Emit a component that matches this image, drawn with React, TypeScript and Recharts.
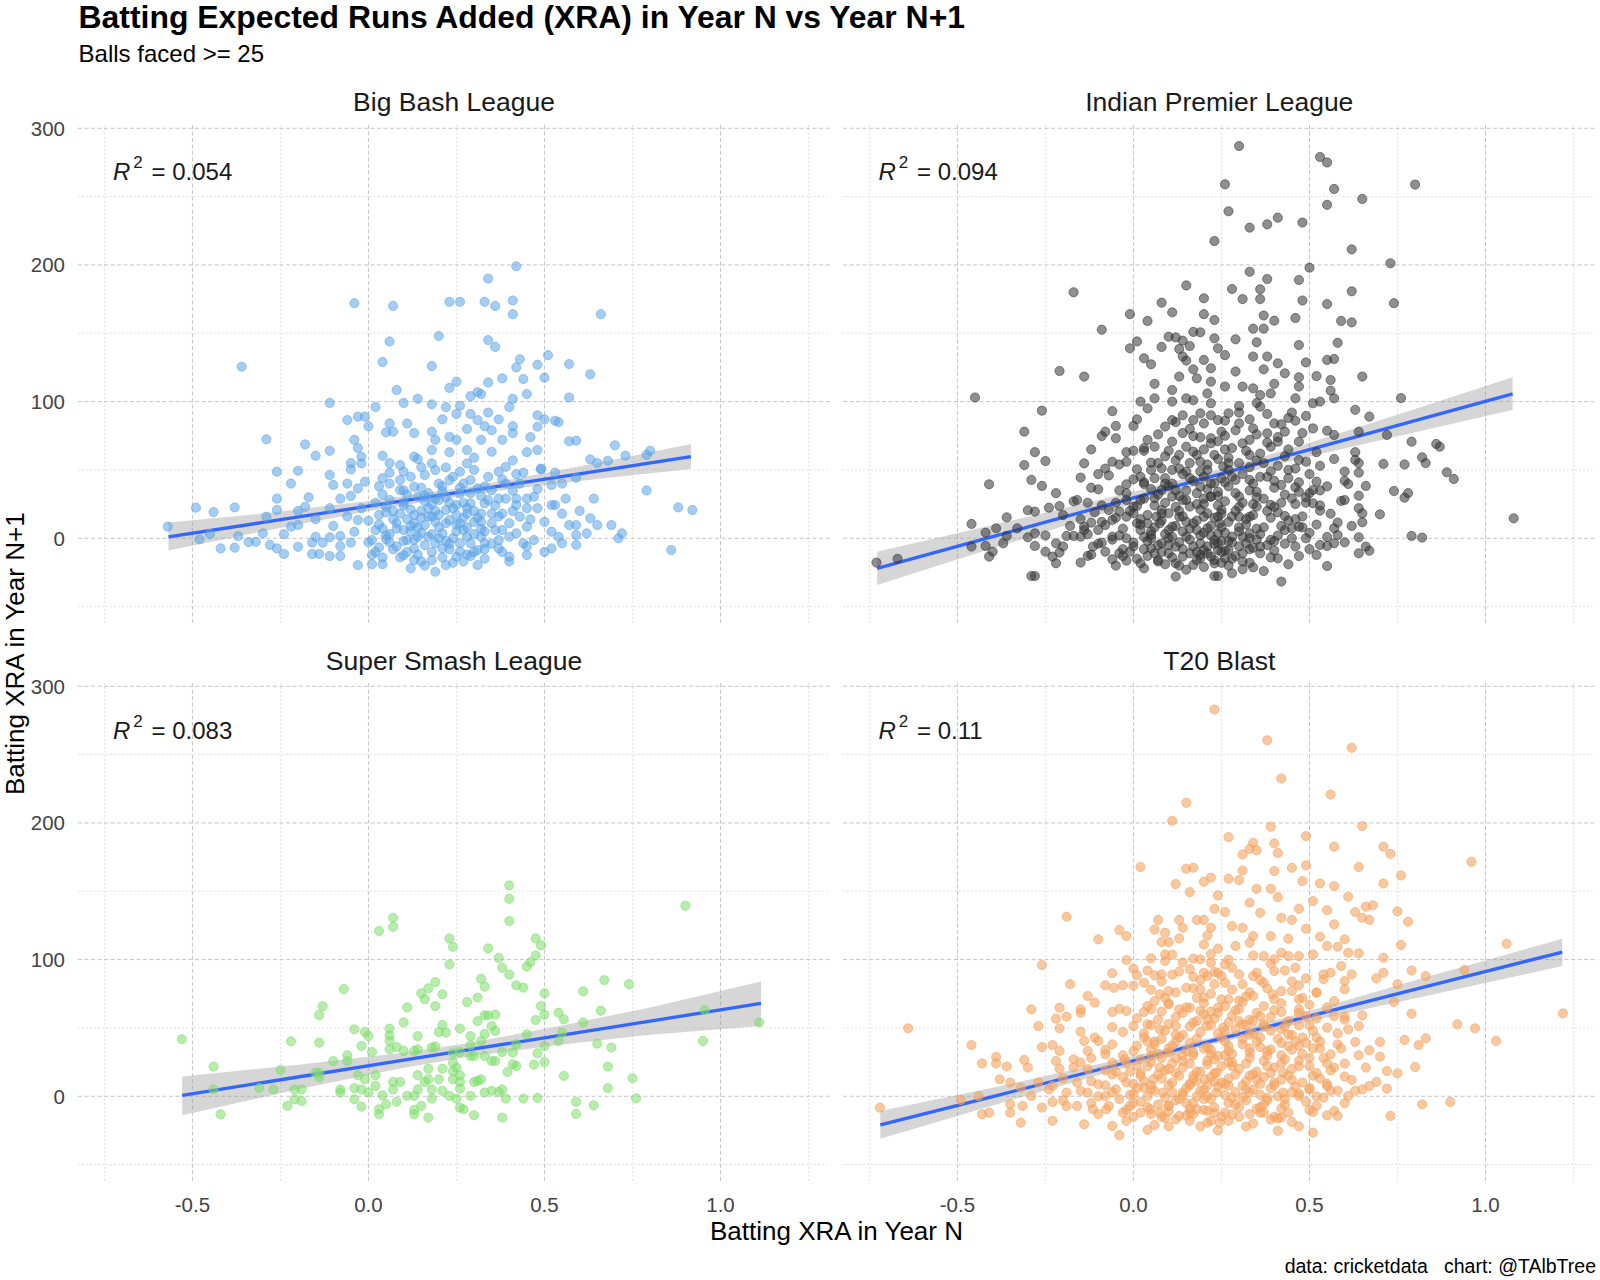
import React from 'react';
import { ComposedChart, Scatter, Line, Area, XAxis, YAxis, CartesianGrid } from 'recharts';

const FONT = '"Liberation Sans", Arial, Helvetica, sans-serif';

// ---- axes ----
const X_DOMAIN: [number, number] = [-0.825, 1.311];
const Y_DOMAIN: [number, number] = [-62.8, 302.4];
const X_TICKS = [-0.5, 0, 0.5, 1.0];
const Y_TICKS = [0, 100, 200, 300];
const X_MINOR = [-0.75, -0.25, 0.25, 0.75, 1.25];
const Y_MINOR = [-50, 50, 150, 250];

// ---- texts ----
const TITLE = 'Batting Expected Runs Added (XRA) in Year N vs Year N+1';
const SUBTITLE = 'Balls faced >= 25';
const X_TITLE = 'Batting XRA in Year N';
const Y_TITLE = 'Batting XRA in Year N+1';
const CAPTION = 'data: cricketdata   chart: @TAlbTree';
const LEAGUES = ['Big Bash League', 'Indian Premier League', 'Super Smash League', 'T20 Blast'];
const R2 = ['0.054', '0.094', '0.083', '0.11'];

// ---- Big Bash League points [xra N, xra N+1] ----
const bblPoints: [number, number][] = [
[0.42,199],[0.34,190],[-0.04,172],[0.07,170],[0.23,173],[0.26,173],[0.33,173],[0.36,170],[0.41,174],[0.41,164],[0.66,164],[0.06,144],[0.2,148],[0.34,145],[0.36,140],[-0.36,125.5],[0.04,129],[0.18,126],[0.43,131],[0.42,125],[0.51,134],[0.48,127],[0.57,127.5],[0.63,120],[0.38,117],[0.44,116.5],[0.5,117.5],[0.25,114.6],[0.23,110],[0.34,114],[0.08,108.5],[0.29,104],[0.31,107],[0.32,105.5],[0.45,105.5],[0.57,103],[-0.11,99],[0.02,96],[0.1,99],[0.14,102],[0.18,98],[0.22,96],[0.26,97],[0.25,91],[0.29,91],[0.34,92],[0.4,96],[0.41,102],[-0.06,86.5],[-0.03,89],[-0.01,89],[0,82],[0.06,84],[0.07,78],[0.05,77.5],[0.11,84],[0.13,77],[0.18,78],[0.21,87],[0.28,80],[0.31,86.5],[0.33,82],[0.35,79],[0.37,87],[0.41,82],[0.41,77],[0.48,90],[0.48,81.6],[0.5,87],[0.53,86],[0.54,85],[0.57,71],[0.59,71.4],[0.46,74],[0.48,64.6],[0.45,63],[0.7,68],[0.73,60.4],[0.8,64],[0.79,61],[0.63,57.7],[0.65,55],[0.68,56.7],[-0.29,72.4],[-0.18,68.7],[-0.11,64],[-0.15,60.4],[-0.04,72],[-0.03,66],[-0.02,59.7],[-0.05,55],[-0.05,50.4],[0.04,60.4],[0.06,55],[0.09,53.6],[0.13,59.7],[0.18,64.6],[0.19,72],[0.23,74.3],[0.25,72],[0.28,64.6],[0.32,72],[0.35,63.3],[0.38,72],[0.41,57],[0.42,47],[0.49,50.4],[0.53,48],[0.59,44.3],[0.56,29],[0.64,29],[0.79,35],[0.88,22.6],[0.92,20.7],[0.86,-8.6],[0.57,9.7],[0.59,9.7],[0.63,14.6],[0.65,9.7],[0.69,9.7],[0.72,3.6],[0.71,0],[0.62,3.6],[0.59,2.4],[0.59,-4.9],[0.55,-3.7],[0.52,-7.4],[0.52,4.8],[0.54,1.1],[0.53,24.3],[0.52,24.3],[0.49,51],[0.52,39],[0.55,40],[0.48,22],[0.45,8.5],[0.45,-12.3],[0.4,-17],[0.4,-13.5],[0.37,-7.4],[0.43,15.8],[0.46,13.8],[0.42,24.3],[0.45,22],[0.47,30.4],[0.45,29],[0.42,29],[0.39,29],[0.38,18],[0.35,18],[0.35,11],[0.38,6],[0.32,7],[0.32,1],[0.31,-8.6],[0.31,-19.6],[0.29,-13],[0.26,-9.8],[0.25,-13.5],[0.22,-19.6],[0.19,-24.5],[0.18,-16],[0.15,-17],[0.12,-22],[0.1,-12.3],[0.04,-19],[0.01,-19],[-0.03,-19.6],[0.01,-12.3],[-0.08,-13],[-0.11,-13],[-0.14,-11.5],[-0.16,-11.5],[-0.2,-6.2],[-0.24,-11.5],[-0.26,-7.4],[-0.28,-4.9],[-0.32,-2.5],[-0.34,-2.8],[-0.38,-6.9],[-0.42,-7.4],[-0.45,3.1],[-0.48,-0.8],[-0.57,8.5],[-0.49,22.4],[-0.44,19.2],[-0.38,22.6],[-0.37,1.6],[-0.3,3.6],[-0.29,15.8],[-0.26,20.7],[-0.26,29],[-0.26,48.7],[-0.22,40],[-0.2,49.4],[-0.17,30],[-0.18,23],[-0.22,8.5],[-0.2,9.7],[-0.15,1.1],[-0.16,-3.2],[-0.13,-3.2],[-0.11,0.7],[-0.11,22],[-0.11,46.3],[-0.1,39],[-0.08,29],[-0.06,40],[-0.05,31],[-0.03,36.5],[-0.01,41.4],[-0.02,54.8],
[-0.08,-5.7],[-0.08,1.6],[-0.05,-3.2],[-0.04,4.8],[-0.03,13.3],[0,12.8],[0.01,-1.3],[0.02,6],[0.03,-6.7],[0.05,-0.8],[0.04,7.2],[0.03,17],[0.05,23],[0.04,32],[0.03,38],[0.06,40],[0.06,48],[0.09,42.6],[0.1,48.7],[0.09,35.3],[0.1,26],[0.09,18],[0.08,11],[0.1,6],[0.11,-1.3],[0.13,-7.4],[0.14,1.1],[0.13,11],[0.12,21],[0.14,30.4],[0.13,37.7],[0.15,37],[0.16,46.3],[0.18,54.8],[0.19,50],[0.22,51.8],[0.23,42.6],[0.21,34],[0.19,29],[0.17,22],[0.18,15.8],[0.16,9.7],[0.17,1.1],[0.19,-3.7],[0.21,-7.4],[0.21,3.6],[0.23,13.3],[0.22,20.7],[0.25,24.3],[0.26,32.8],[0.27,40],[0.26,48.7],[0.28,54.8],[0.3,59],[0.29,42.6],[0.31,36.5],[0.29,25.5],[0.28,18],[0.26,11],[0.28,1.1],[0.26,-3.7],[0.29,-3.7],[0.33,-3.7],[0.32,18],[0.33,25.5],[0.35,35],[0.34,45],[0.37,48.7],[0.39,52.3],[0.39,40],[0.37,29],[0.41,34.8],[0.43,40],[0.4,11],[0.4,1.1],[0.37,-1.3],[0.42,3.6],[0.44,-3.7],[0.47,-1.3],
[0.12,5],[0.15,15],[0.2,8],[0.24,0],[0.27,6],[0.3,12],[0.16,-5],[0.22,-2],[0.11,14],[0.19,20],[0.07,-8],[0.25,17],[0.14,-12],[0.2,28],[0.3,-10],[0.17,33],[0.09,-14],[0.24,-18],[0.33,5],[0.06,3],
[0.02,-10],[0.08,-6],[0.13,-16],[0.18,-10],[0.23,-8],[0.28,-12],[0.33,-15],[0.05,2],[0.1,-2],[0.15,4],[0.2,0],[0.25,5],[0.3,3],[0.35,-4],[0.03,10],[0.07,14],[0.12,9],[0.17,16],[0.22,11],[0.27,15],[0.32,12],[0.37,16],[0.05,19],[0.1,24],[0.15,20],[0.2,17],[0.24,22],[0.3,20],[0.36,24],[0.41,20],[0.06,28],[0.11,32],[0.16,27],[0.22,30],[0.27,26],[0.32,31],[0.04,44],[0.12,45],[0.2,40],[0.26,37],[0.33,38],[0.38,43],[0.14,58],[0.23,63],[0.3,50],[0.44,48],[0.48,36],[0.5,12],[0.55,18],[0.6,20],[-0.02,22],[-0.06,16],[-0.1,9],[-0.15,14],[-0.2,20],[-0.24,3],[0.45,-6],[0.5,-10],[0.38,-10],[0,-3],
[0.04,-14],[0.11,-10],[0.16,-20],[0.21,-14],[0.27,-17],[0.06,-3],[0.13,-1],[0.18,3],[0.23,-4],[0.28,8],[0.33,-8],[0.08,7],[0.14,8],[0.19,12],[0.25,10],[0.31,15],[0.36,6],[0.02,26],[0.07,20],[0.13,17],[0.18,25],[0.23,26],[0.28,22],[0.34,28],[0.1,35],[0.16,31],[0.21,38],[0.29,33],[0.24,45],[0.15,52]
];

// ---- Indian Premier League points ----
const iplPoints: [number, number][] = [
[0.23,217.5],[0.15,185],[-0.17,180],[0.2,175.6],[0.08,172.4],[0.11,165.3],[0.2,164],[-0.01,164],[0.04,159],[0.23,159.7],[-0.09,152.6],[0.17,151],[0.19,150.7],[0.1,147.5],[0.12,147],[0.14,144.6],[0.01,144],[-0.01,139],[0.08,140],[0.13,138.5],[0.16,140.7],[0.23,146.3],[0.24,139],[0.03,131.7],[0.05,127.3],[0.14,133],[0.15,130],[0.2,130.5],[-0.21,122.4],[-0.14,118.3],[0.06,113],[0.13,118.3],[0.17,123.6],[0.18,117],[0.22,124.4],[0.22,114.6],[0.11,108.5],[0.06,102.4],[0.04,95],[0.02,100],[0.11,100],[0.15,102.4],[0.17,101],[0.22,98.8],[0.19,91.4],[0.14,90],[0.17,86.5],[0.11,86.5],[0.09,81.7],[-0.45,103],[-0.26,93.4],[-0.06,93],[-0.31,78],[-0.28,63],[-0.25,56.5],[-0.31,53.6],[-0.29,42.7],[-0.26,38.3],[-0.41,39.5],[-0.22,33],[-0.24,22.4],[-0.21,23.6],[-0.3,20.5],[-0.28,19.5],[-0.36,15.3],[-0.16,28],[-0.13,26],[-0.15,44.4],[-0.14,54.8],[-0.12,65],[-0.08,51],[-0.06,56],[-0.1,47],[-0.1,35.8],[-0.09,74.8],[-0.08,78],[-0.05,82.2],[-0.05,73.2],[0,82.2],[-0.02,63],[0,64],[0.03,64],[0.04,72],[0.06,67],[0.05,55.3],[0.08,51.2],[0.01,50.5],[0,43.2],[0.03,39.7],[-0.02,39.5],[-0.04,54],[0.06,44],[0.11,40],[0.15,48.8],[0.19,56],[0.23,61],[0.17,63.4],[0.13,61],[0.11,70.7],[0.17,74.8],[0.22,73.2],[0.15,28],[0.11,30.5],[0.08,20.7],[0.06,29.2],[0.02,28],[0,18.3],[-0.02,15.8],[-0.04,19.5],[-0.06,13.4],[-0.08,9.7],[-0.1,6.1],[-0.12,11.4],[-0.14,8.5],[-0.15,1.2],[-0.17,1.7],[-0.19,1.7],[-0.22,-3.7],[-0.21,-10.5],[-0.23,-13.4],[-0.22,-18.3],[-0.25,-9.8],[-0.28,-5.6],[-0.3,0.7],[-0.28,3.6],[-0.33,7.3],[-0.36,1.7],[-0.39,7.3],[-0.42,4.1],[-0.42,-5.6],[-0.4,-9.8],[-0.41,-13.4],[-0.37,-3.7],[-0.46,10.5],[-0.46,-6.1],[-0.67,-15],[-0.73,-17.8],[-0.29,-27.6],[-0.28,-27.6],[-0.15,-17.8],[-0.13,-12.9],[-0.115,-6.1],[-0.09,-3.2],[-0.08,-9.8],[-0.06,-15.4],[-0.04,-11],[-0.02,-16.4],[-0.01,-9.8],[0,-3.2],[0.02,-18.3],[0.04,-12.9],[0.05,-7.3],[0.07,-15.9],[0.1,-11],[0.12,-28],[0.12,-18.3],[0.14,-13.4],[0.17,-19.5],[0.19,-14.7],[0.23,-27.6],[0.23,-15.9],[0.02,6.1],[0.05,2.4],[0.075,11],[0.1,0],[0.11,8.5],[0.13,15.8],[0.15,1.2],[0.17,11],[0.19,-3.7],[0.21,7.3],[0.23,-1.2],[0.21,18.3],[0.24,15.8],[0.24,34],[0.19,37.8],[0.16,44],[0.08,35.3],[0.11,50],[-0.02,28],[-0.02,0],[-0.06,1.2],[-0.07,20.7],[0.01,23.6],[0.08,-3.7],
[0.16,23.2],[0.18,6.1],[0.2,-8.6],[0.22,30.5],[0.24,3.6],[0.12,-6.1],[0.1,18.3],[0.065,15.8],[0.04,11],[0.16,-11],[0.22,-13.4],[0.24,-8.6],
[0.3,287],[0.53,279],[0.55,275],[0.26,259],[0.8,258.8],[0.57,255.6],[0.65,248.3],[0.27,239.3],[0.55,244],[0.41,234.6],[0.38,229.7],[0.33,227.3],[0.48,231],[0.62,211.4],[0.73,201.2],[0.5,198],[0.33,195],[0.38,189.7],[0.47,189],[0.28,182.4],[0.36,182.2],[0.36,175],[0.31,175],[0.48,174],[0.62,180.7],[0.55,171.4],[0.74,172],[0.37,163],[0.4,159.2],[0.46,161.2],[0.59,159],[0.62,158],[0.34,153.4],[0.37,153.4],[0.35,143.4],[0.47,141.4],[0.58,143],[0.29,145.6],[0.26,134],[0.38,133],[0.41,128],[0.34,133],[0.49,128.7],[0.55,130.5],[0.57,131.2],[0.37,123.6],[0.43,120.7],[0.29,122],[0.47,117.8],[0.52,118.7],[0.65,118.3],[0.4,113],[0.47,111],[0.56,115.8],[0.31,111],[0.34,109.7],[0.26,111],[0.21,106],[0.36,104.8],[0.39,106],[0.46,102.4],[0.56,108],[0.57,102.4],[0.76,102.6],[0.51,98.8],[0.53,100],[0.3,96.8],[0.36,96.3],[0.27,91.4],[0.38,91],[0.45,92],[0.49,89.5],[0.63,94],[0.67,89],[0.24,86.5],[0.3,84],[0.42,83.4],[0.46,86],[0.55,78.7],[0.57,75.6],[0.51,80.4],[0.64,78],[0.72,75.6],[0.38,76.8],[0.34,80.4],[0.25,78],[0.79,70.7],[0.86,69],[0.87,67],[0.47,70.7],[0.41,70.7],[0.31,69.5],[0.22,69.5],[0.63,63],[0.82,59.2],[0.83,55],[0.71,54.4],[0.77,54],[0.64,55],[0.63,57.3],[0.53,53],[0.47,57.3],[0.44,50],[0.37,55],[0.33,61],[0.27,55],[0.89,48.3],[0.91,43.4],[0.6,48.8],[0.64,48],[0.6,42],[0.61,39.7],[0.52,41.4],[0.53,35],[0.51,35.3],[0.46,37.3],[0.42,39],[0.38,45],[0.33,42.7],[0.28,45],[0.23,40.2],[0.66,38.3],[0.74,34.6],[0.77,29.7],[0.78,33],[0.59,27.3],[0.64,31.2],[0.64,22],[0.65,18.2],[0.65,11.7],[0.7,17.5],[0.51,25.6],[0.53,20.2],[0.49,26],[0.45,29.2],[0.43,16.3],[0.39,24.4],[0.35,23.2],[0.3,15.8],[0.25,20.7],[0.2,15.8],[0.58,11.5],[0.57,7.3],[0.58,2.4],[0.53,-4.9],[0.55,-5.6],[0.57,-3.7],[0.52,-12.2],[0.55,-20.3],[0.49,0],[0.47,8.5],[0.45,7.3],[0.42,9],[0.39,-1.2],[0.41,-14.7],[0.42,-31.7],[0.36,-6.1],[0.34,-21.3],[0.31,-22.7],[0.28,-25.6],[0.24,-27.6],[0.26,-14.7],[0.31,-11],[0.28,1.2],[0.33,3.6],[0.24,-3.7],[0.21,-11],[0.64,0.7],[0.64,-11],[0.66,-6.1],[0.67,-9.1],[0.79,1.7],[0.82,0.5],[1.08,14.6],
[0.22,30.5],[0.245,11],[0.27,-8.6],[0.3,30.5],[0.33,15.8],[0.23,-18.3],[0.255,52.4],[0.29,42.7],[0.32,-3.7],[0.21,50],
[0.05,0],[0.1,-5],[0.15,12],[0.2,25],[0.25,-2],[0.3,8],[0.35,30],[0.12,35],[0.08,18],[0.18,-10],[0.28,-15],[0.22,40],[0.02,10],[-0.03,-8],[0.33,-8],[0.38,20],[0.16,55],[0.26,65],
[-0.05,-20],[0.03,-22],[0.09,-19],[0.15,-23],[0.2,-21],[0.27,-20],[0.33,-18],[0.37,-24],[0.44,-19],
[-0.12,-12],[-0.03,-13],[0.06,-11],[0.11,-14],[0.19,-12],[0.25,-10],[0.29,-13],[0.36,-11],[0.4,-9],[0.47,-13],[0.5,-8],
[-0.2,-6],[-0.1,-4],[0,-6],[0.07,-5],[0.13,-3],[0.17,-6],[0.23,-4],[0.27,-2],[0.3,-6],[0.35,-1],[0.43,-4],[0.46,-6],[0.6,-3],
[-0.25,2],[-0.13,3],[-0.04,2],[0.03,1],[0.09,3],[0.14,5],[0.19,2],[0.26,4],[0.31,1],[0.36,3],[0.41,2],[0.5,4],[0.55,1],
[-0.18,9],[-0.09,12],[0.01,11],[0.06,8],[0.12,9],[0.18,13],[0.22,9],[0.27,12],[0.32,10],[0.37,8],[0.44,13],[0.52,10],[0.62,9],
[-0.2,17],[-0.11,19],[-0.01,20],[0.04,17],[0.13,20],[0.19,21],[0.25,18],[0.29,20],[0.34,17],[0.41,19],[0.48,16],[0.56,18],
[-0.17,27],[-0.05,26],[0.03,29],[0.09,26],[0.14,28],[0.2,29],[0.26,27],[0.31,26],[0.37,29],[0.42,26],[0.49,30],[0.6,28],
[-0.12,37],[-0.04,35],[0.05,36],[0.1,38],[0.15,35],[0.21,36],[0.27,38],[0.33,35],[0.4,37],[0.47,34],[0.55,38],
[-0.07,46],[0.02,45],[0.09,44],[0.14,47],[0.2,45],[0.25,44],[0.31,47],[0.36,45],[0.44,44],[0.5,47],
[-0.02,56],[0.07,55],[0.12,57],[0.21,54],[0.24,58],[0.3,55],[0.35,57],[0.41,53],[0.49,56],[0.57,58],
[0.03,66],[0.1,64],[0.15,67],[0.2,65],[0.28,66],[0.32,64],[0.39,67],[0.44,65],[0.52,63],
[0.07,76],[0.14,77],[0.19,74],[0.26,75],[0.29,79],[0.35,76],[0.41,74],[0.48,77],
[0.01,87],[0.12,85],[0.2,84],[0.26,86],[0.33,87],[0.4,84],[0.44,88],
[0.01,-15],[0.07,-17],[0.13,-20],[0.18,-16],[0.25,-18],[0.31,-17],[0.39,-14],
[0.03,-8],[0.08,-10],[0.14,-8],[0.21,-6],[0.26,-9],[0.34,-7],[0.38,-5],
[-0.06,-1],[0.04,-2],[0.11,1],[0.16,-1],[0.22,2],[0.28,-3],[0.33,0],[0.4,-2],[0.45,0],
[-0.14,6],[-0.03,7],[0.05,5],[0.1,6],[0.16,7],[0.2,4],[0.25,8],[0.3,5],[0.35,7],[0.43,6],[0.48,8],
[-0.15,14],[-0.05,15],[0.02,14],[0.08,13],[0.14,16],[0.23,15],[0.28,16],[0.32,14],[0.39,15],[0.46,14],
[-0.09,24],[0,23],[0.06,24],[0.12,23],[0.18,25],[0.24,24],[0.3,23],[0.34,25],[0.4,23],[0.46,25],[0.53,24],
[-0.02,33],[0.07,32],[0.13,31],[0.18,33],[0.24,31],[0.29,33],[0.35,34],[0.43,32],[0.5,33],
[0.03,41],[0.09,40],[0.17,42],[0.26,41],[0.34,40],[0.4,42],[0.47,41],
[0.05,50],[0.13,51],[0.19,49],[0.27,50],[0.33,52],[0.39,49],[0.46,51],
[0.09,60],[0.18,61],[0.27,59],[0.36,62],[0.43,60],
[0.24,71],[0.33,72],[0.38,70],[0.43,78],[0.16,80],[0.22,90],[0.3,92],[0.35,99]
];

// ---- Super Smash League points ----
const sslPoints: [number, number][] = [
[0.4,154.3],[0.4,144.5],[0.4,128.2],[0.07,130.6],[0.07,124],[0.03,121],[0.9,139.4],[0.23,115.5],[0.24,109.4],[0.475,115.5],[0.49,110.4],[0.475,103],[0.34,108.2],[0.37,101.2],[0.38,94],[0.4,89],[0.46,98.2],[0.45,94.8],[0.23,96.5],[0.32,86],[0.33,80.2],[0.42,81.2],[0.44,79.5],[0.5,75.3],[0.67,85],[0.74,82],[0.61,76.8],[0.19,83.6],[0.17,79],[0.15,75.3],[0.16,71],[0.19,66],[0.21,74.6],[-0.07,78.5],[-0.13,65.8],[-0.14,59.5],[0.11,65],[0.28,69],[0.31,72.2],[0.49,66],[0.5,59.7],[0.54,61.2],[0.555,56.3],[0.66,62.6],[0.61,54],[0.475,55.8],[0.33,59.2],[0.34,59.2],[0.36,59.7],[0.31,55],[0.35,51.4],[0.36,47.8],[0.1,54],[0.21,52.2],[-0.04,49],[-0.01,47],[0.06,49.5],[0,44],[0.06,44.6],[0.14,44],[0.2,47],[0.22,46.6],[0.26,49.5],[0.33,45.6],[0.45,45.3],[0.48,31.5],[0.5,36.8],[0.54,40.5],[0.55,46.6],[0.65,38.5],[0.69,35.6],[0.95,40.5],[0.955,63],[1.11,54],[-0.53,41.7],[-0.22,40.2],[-0.14,39.2],[-0.02,36.8],[0.01,32.4],[0.06,40.5],[0.06,34.4],[0.08,36],[0.1,33.2],[0.13,33.2],[0.14,34.4],[0.18,35.6],[0.19,36.3],[0.24,32],[0.26,32.4],[0.29,44],[0.29,37.3],[0.32,40.5],[0.29,29.5],[0.3,29.5],[0.33,29.5],[0.35,25.8],[0.36,25.8],[0.38,32.4],[0.41,32],[0.42,38],[0.41,23.4],[0.42,22.2],[0.395,17.8],[0.47,23.2],[0.5,25],[0.555,15],[0.68,21.7],[0.68,6],[0.75,13.2],[0.76,-1.5],[0.59,-4],[0.59,-12.9],[0.64,-6.6],[0.48,-1.2],[0.44,-1.7],[0.39,-1.7],[0.37,3.2],[0.38,5],[0.35,4],[0.33,2.7],[0.31,11.2],[0.32,12.4],[0.3,10.5],[0.29,0.3],[0.26,15.4],[0.26,10.5],[0.26,5.6],[0.25,21],[0.24,24.6],[0.24,18.3],[0.24,12.4],[0.21,20.2],[0.2,12.4],[0.21,4],[0.23,0.3],[0.25,-1.7],[0.26,-8.3],[0.27,-9.5],[0.17,20.2],[0.17,12.4],[0.18,5],[0.18,-1.7],[0.16,10.5],[0.14,15.4],[0.14,5],[0.13,0.3],[0.11,0.3],[0.15,-7],[0.13,-10],[0.09,10.5],[0.07,10.5],[0.07,5],[0.04,0.7],[0.08,-4],[0.05,-5.8],[0.03,-9.5],[0.03,-13.2],[-0.02,-7.6],[-0.04,-2.2],[-0.04,6],[-0.01,12.4],[0.02,7.6],[0.02,15.4],[-0.03,15.4],[-0.06,30],[-0.06,25.8],[-0.1,25.8],[-0.08,5],[-0.08,2.7],[-0.14,17.3],[-0.15,17.3],[-0.14,13.7],[-0.19,5],[-0.19,-3.4],[-0.21,5],[-0.21,-2.2],[-0.23,-7],[-0.25,19.3],[-0.27,5],[-0.31,6],[-0.44,21.7],[-0.44,5],[-0.42,-13.2],[-0.02,5],[0,2.7],[0.13,-13.2],[0.17,-15.6],[0.3,-13.9],[0.38,-15.6]
];

// ---- T20 Blast points ----
const t20Points: [number, number][] = [
[0.23,283],[0.15,214.7],[0.11,201.6],[0.02,167.7],[0.15,166.5],[0.17,167.2],[0.12,155.3],[0.2,157],[0.22,160],[0.16,149.4],[0.24,147],[0.23,137.2],[-0.19,131.4],[0.07,129],[0.13,129],[0.18,129],[-0.1,114.8],[-0.04,121.6],[-0.02,117.2],[0.06,122],[0.09,119.7],[0.08,112.8],[0.1,112.8],[0.13,115.5],[0.14,123.3],[0.2,111],[0.21,117.7],[0.22,123.3],[0.24,108],[0.09,103.8],[0.11,103.6],[0.09,99],[0.17,100.7],[0.19,100.2],[0.13,91.2],[-0.02,99.7],[-0.26,96],[-0.06,90],[0,93.4],[0.01,88.5],[0.06,88.5],[0.08,89.2],[0.17,87.5],[0.2,90.4],[0.21,88],[0.24,90.4],[-0.18,82],[-0.08,81.2],[-0.055,79.4],[-0.03,81.2],[0.03,83],[0,81],[0.075,74.6],[0.1,77],[0.15,79.4],[0.19,78.2],[0.23,82],[-0.13,73.4],[-0.11,68.5],[-0.15,63.6],[-0.15,61.2],[-0.21,64.8],[-0.29,63.6],[-0.19,58.3],[-0.22,56.8],[-0.27,51.4],[-0.21,49.7],[-0.06,61.7],[-0.04,64],[-0.02,62.4],[0.03,61.7],[0.06,69.7],[0.05,63.6],[0.1,67.3],[0.13,63.6],[0.16,64.8],[0.19,62.4],[0.24,64.8],[0.21,56.3],[0.17,54],[0.12,51.4],[0.075,49],[0.04,52.7],[0,51.4],[-0.06,50.7],[-0.11,43],[-0.1,40.5],[-0.14,40.5],[-0.15,47.3],[-0.08,34],[-0.13,33.2],[-0.21,33.2],[-0.23,37.5],[-0.26,36],[-0.46,37.5],[-0.64,49.7],[-0.43,24],[-0.39,28.8],[-0.39,24],[-0.36,21.7],[-0.31,26.6],[-0.3,21],[-0.22,25.8],[-0.21,20.2],[-0.17,27],[-0.15,24.6],[-0.13,19.8],[-0.08,30.7],[-0.06,24.6],[-0.025,27],[0.01,22.2],[0.05,29.5],[0.075,21],[0.1,32],[0.14,25.8],[0.17,32],[0.21,23.4],[0.24,29.5],[-0.38,12.4],[-0.35,10],[-0.32,6.3],[-0.29,0.2],[-0.27,10],[-0.23,7.6],[-0.19,2.7],[-0.16,10],[-0.13,2.7],[-0.1,8.8],[-0.08,0.2],[-0.05,5],[-0.02,10],[0,1.5],[0.03,6.3],[0.056,12.4],[0.084,2.7],[0.11,10],[0.14,2.7],[0.17,12.4],[0.2,5],[0.23,11],[-0.72,-8.3],[-0.49,-2.7],[-0.44,0.2],[-0.43,-13.2],[-0.41,-12],[-0.35,-12],[-0.35,-5.9],[-0.32,-19.3],[-0.315,-7.1],[-0.26,-8.3],[-0.23,-4.2],[-0.23,-18],[-0.19,-7.1],[-0.16,-7.1],[-0.14,-20.5],[-0.115,-9.5],[-0.077,-9.5],[-0.06,-21.7],[-0.04,-28.5],[-0.03,-12],[-0.01,-7.1],[0.02,-12],[0.04,-24.6],[0.047,-9.5],[0.075,-12],[0.1,-7.1],[0.13,-14.4],[0.16,-18],[0.18,-9.5],[0.21,-19.3],[0.23,-12],
[0.38,260.5],[0.62,255],[0.42,232.5],[0.56,220.8],[0.39,197.2],[0.65,197.7],[0.27,189.6],[0.49,190.4],[0.57,182.6],[0.71,182.6],[0.73,177.4],[0.31,177],[0.33,181],[0.34,185.5],[0.35,180],[0.4,185],[0.41,178],[0.96,171.6],[0.64,167.7],[0.45,167.2],[0.49,169],[0.31,165.2],[0.4,164.8],[0.27,159.2],[0.3,158.2],[0.48,157.4],[0.53,155.7],[0.57,153.8],[0.71,155.7],[0.76,161.6],[0.35,151.8],[0.39,151.8],[0.41,145.7],[0.61,146],[0.51,142.8],[0.47,137.2],[0.55,136.2],[0.57,125.8],[0.63,134.8],[0.66,138.7],[0.68,139.7],[0.65,130.6],[0.67,129],[0.75,135.3],[0.78,127.7],[0.26,134.8],[0.33,141.6],[0.36,134.3],[0.42,130.6],[0.45,129],[0.49,122.6],[0.2,129],[0.28,124.5],[0.31,123.3],[0.34,117.2],[0.39,117.2],[0.44,115.3],[0.53,116.7],[0.55,110],[0.6,114.8],[0.76,110.6],[1.06,111.6],[0.29,110],[0.33,112.4],[0.42,105],[0.47,102.6],[0.51,103.8],[0.58,109.4],[0.61,105],[0.64,104.6],[0.71,101.4],[0.22,97.7],[0.26,96.5],[0.37,102.6],[0.4,100.2],[0.44,102.6],[0.25,88],[0.3,89.2],[0.35,90.4],[0.4,91.6],[0.46,94],[0.49,86.3],[0.54,89.2],[0.59,95.3],[0.62,89.2],[0.69,86.3],[0.71,90.4],[0.79,92],[0.83,88],[0.94,92.4],[0.31,82],[0.37,83],[0.42,77],[0.47,81.2],[0.54,85.6],[0.56,90.4],[0.6,84.3],[0.6,78.2],[0.75,82],[0.74,69],[0.2,72.2],[0.27,71],[0.34,73.4],[0.395,74.6],[0.47,71],[0.52,75.8],[0.57,69.7],[0.24,61.2],[0.3,63.6],[0.36,58.7],[0.42,61.7],[0.47,63.6],[0.49,58.7],[0.57,58.7],[0.6,58.3],[0.65,59.2],[0.79,60.4],[0.92,52.7],[0.97,49.7],[1.03,40.5],[1.22,60.7],[0.77,41.2],[0.83,42.4],[0.81,37.5],[0.7,39.7],[0.67,33.6],[0.7,29],[0.63,39.7],[0.64,51.4],[0.61,49],[0.55,50.2],[0.52,43],[0.47,52],[0.42,49],[0.37,51.4],[0.31,52.7],[0.255,50.2],[0.207,51.4],[0.59,35],[0.56,30.7],[0.53,35],[0.49,39.2],[0.44,36.8],[0.39,34.3],[0.33,32],[0.27,36.8],[0.22,30.7],[0.8,21.4],[0.75,16.8],[0.72,18.5],[0.66,21],[0.6,24],[0.57,21],[0.6,14.4],[0.55,7.6],[0.51,15],[0.47,22.2],[0.425,17.3],[0.38,22.2],[0.33,15],[0.28,22.2],[0.236,17.3],[0.203,12.4],[0.67,7.6],[0.69,10.5],[0.72,5.6],[0.63,4],[0.61,0.2],[0.58,4],[0.57,-10.7],[0.58,-14.4],[0.51,-11.5],[0.51,-26.6],[0.45,-18.8],[0.41,-25.3],[0.42,-15.6],[0.37,-12],[0.32,-22.2],[0.28,-13.2],[0.245,-19.3],[0.21,-10.7],[0.73,-14.4],[0.82,-5.9],[0.9,-4.1],[0.47,0.2],[0.425,2.7],[0.38,-1],[0.33,2.7],[0.28,-1],[0.236,2.7],
[0.05,5],[0.1,20],[0.15,-5],[0.2,35],[0.25,10],[0.3,-8],[0.35,40],[0.12,45],[0.18,0],[0.28,25],[0.02,15],[0.08,-15],[0.22,-18],[0.32,5],[0.38,-3],[0.42,30],[0.45,12],[0.14,30],[0.26,48],[0.06,38],[-0.05,18],[0,-5],[0.1,-22],[0.16,8],[0.24,-25],[0.34,55],[0.4,-15],[0.44,45],[0.3,70],[0.2,60],
[0.12,40],[0.18,18],[0.27,8],[0.33,45],[0.4,8],[0.46,40],[0.5,28],[0.36,-12],[0.26,30],[0.16,-12],[0.08,28],[0.04,40],[0.3,55],[0.43,-6],[0.2,-2],[0.13,-2],[0.5,5],[0.35,12],
[-0.02,-18],[0.06,-21],[0.12,-17],[0.19,-22],[0.27,-18],[0.34,-20],[0.39,-17],[0.47,-22],
[-0.1,-13],[-0.02,-10],[0.05,-13],[0.1,-11],[0.15,-14],[0.2,-10],[0.26,-12],[0.3,-15],[0.35,-9],[0.44,-12],[0.5,-10],[0.55,-14],
[-0.2,-3],[-0.12,-5],[-0.04,-2],[0.02,-4],[0.07,-6],[0.12,-3],[0.17,-5],[0.22,-2],[0.27,-5],[0.32,-3],[0.37,-6],[0.43,-2],[0.49,-4],[0.54,-1],[0.6,-5],
[-0.24,5],[-0.15,4],[-0.06,3],[0.01,6],[0.06,4],[0.11,3],[0.15,6],[0.19,4],[0.24,7],[0.29,3],[0.34,5],[0.39,6],[0.45,3],[0.5,6],[0.56,4],[0.65,5],
[-0.2,13],[-0.12,11],[-0.03,14],[0.03,11],[0.08,13],[0.13,15],[0.18,11],[0.22,14],[0.27,13],[0.32,11],[0.37,14],[0.42,12],[0.48,10],[0.53,13],[0.62,12],
[-0.17,21],[-0.08,19],[-0.01,18],[0.04,22],[0.09,19],[0.14,21],[0.19,18],[0.25,22],[0.3,20],[0.35,18],[0.4,21],[0.45,20],[0.5,22],[0.56,19],
[-0.12,28],[-0.03,30],[0.02,27],[0.07,31],[0.12,28],[0.17,30],[0.23,27],[0.28,31],[0.33,28],[0.38,30],[0.43,27],[0.48,31],[0.54,28],[0.64,30],
[-0.06,38],[0.01,37],[0.06,40],[0.11,37],[0.16,39],[0.21,36],[0.26,40],[0.31,38],[0.36,36],[0.42,39],[0.47,37],[0.53,40],[0.58,38],
[-0.03,47],[0.03,46],[0.09,48],[0.14,45],[0.19,47],[0.24,46],[0.29,49],[0.34,46],[0.39,48],[0.45,45],[0.51,48],[0.58,46],
[0.01,57],[0.07,56],[0.12,58],[0.18,55],[0.23,57],[0.28,59],[0.33,56],[0.39,58],[0.44,55],[0.52,57],[0.6,56],
[0.04,66],[0.1,68],[0.15,65],[0.2,68],[0.26,66],[0.31,69],[0.37,66],[0.42,68],[0.5,67],[0.55,65],
[0.05,78],[0.12,76],[0.17,79],[0.22,75],[0.28,78],[0.33,76],[0.38,79],[0.45,77],[0.52,76],
[0.04,92],[0.11,89],[0.16,93],[0.23,91],[0.28,94],[0.34,88],[0.43,92],
[0.05,101],[0.14,98],[0.22,104],[0.27,100],[0.34,103],[0.39,97],
[0,-15],[0.09,-16],[0.17,-13],[0.25,-15],[0.33,-13],[0.41,-16],
[-0.07,-7],[0.04,-8],[0.1,-7],[0.16,-9],[0.23,-8],[0.29,-6],[0.36,-8],[0.42,-9],[0.52,-7],
[-0.1,0],[-0.01,1],[0.04,0],[0.09,-1],[0.14,1],[0.21,0],[0.26,1],[0.31,-1],[0.36,1],[0.41,0],[0.47,2],[0.52,0],
[-0.08,8],[0,9],[0.05,8],[0.1,8],[0.16,9],[0.21,8],[0.26,9],[0.31,8],[0.36,9],[0.4,10],[0.46,7],[0.55,9],
[-0.06,16],[0.02,17],[0.07,16],[0.12,17],[0.17,15],[0.23,17],[0.29,16],[0.34,16],[0.39,17],[0.44,15],[0.52,17],
[-0.02,24],[0.05,25],[0.11,24],[0.16,24],[0.21,26],[0.27,25],[0.32,24],[0.37,26],[0.42,24],[0.47,26],[0.55,24],
[0,33],[0.05,34],[0.1,35],[0.15,33],[0.22,34],[0.27,33],[0.33,35],[0.38,33],[0.45,34],[0.51,35],
[0.03,43],[0.08,42],[0.13,43],[0.18,42],[0.25,43],[0.31,42],[0.36,43],[0.41,42],[0.48,43],
[0.05,52],[0.1,53],[0.16,51],[0.22,52],[0.27,54],[0.32,52],[0.37,53],[0.43,51],[0.5,52],
[0.08,62],[0.14,61],[0.22,62],[0.29,63],[0.35,61],[0.4,63],[0.47,61],
[0.09,72],[0.18,72],[0.25,71],[0.32,73],[0.4,71],[0.48,72],
[0.08,84],[0.19,85],[0.26,83],[0.36,85],[0.45,84]
];

// ---- linear fits with 95% band ----
const bblFitX = [-0.568, -0.3, 0, 0.2, 0.4, 0.65, 0.916];
const bblFit = [1.0, 11.6, 23.5, 31.4, 39.3, 49.2, 59.8];
const bblLo = [-9, 5.1, 19.7, 28.4, 35.8, 43.4, 50.7];
const bblHi = [11.5, 18.1, 27.3, 34.4, 42.8, 55.0, 68.9];

const iplFitX = [-0.728, -0.4, 0, 0.22, 0.5, 0.8, 1.077];
const iplFit = [-22, 1.2, 29.5, 45.1, 64.9, 86.1, 105.6];
const iplLo = [-34.2, -7.3, 25, 41.6, 59.9, 77.6, 93.9];
const iplHi = [-9.8, 9.7, 34, 48.6, 69.9, 94.6, 117.8];

const sslFitX = [-0.529, -0.2, 0.1, 0.3, 0.55, 0.8, 1.115];
const sslFit = [0.7, 14.1, 26.4, 34.6, 44.8, 55.0, 67.9];
const sslLo = [-13.9, 5.1, 20.9, 29.6, 37.8, 45, 51.4];
const sslHi = [14.4, 23.1, 31.9, 39.6, 51.8, 65, 83.9];

const t20FitX = [-0.719, -0.4, 0, 0.22, 0.5, 0.85, 1.218];
const t20Fit = [-21, -0.2, 26, 40.3, 58.6, 81.5, 105.5];
const t20Lo = [-31, -6.7, 22.7, 37.7, 54.8, 74.5, 95.3];
const t20Hi = [-10.7, 6.3, 29.3, 42.9, 62.4, 88.5, 115.3];

// ---- layout ----
const PANEL_W = 752;
const PANEL_H = 499.1;
const Y_AXIS_W = 78;
const X_AXIS_H = 40;
const PAD_TOP = 16;
const LEFT_X = 0;
const RIGHT_X = 843.3;
const TOP_Y = 125;
const BOTTOM_Y = 683.4;

type PanelProps = {
  left: number; top: number; showX: boolean; showY: boolean;
  points: [number, number][]; color: string; opacity: number;
  fitX: number[]; fit: number[]; lo: number[]; hi: number[];
};

const tickStyle = { fill: '#444444', fontSize: 20.5, fontFamily: FONT };

function Panel(p: PanelProps) {
  const rows = p.fitX.map((x, i) => ({ x, fit: p.fit[i], band: [p.lo[i], p.hi[i]] }));
  const pts = p.points.map(([x, y]) => ({ x, y }));
  const w = PANEL_W + (p.showY ? Y_AXIS_W : 0);
  const h = PANEL_H + PAD_TOP + (p.showX ? X_AXIS_H : 0);
  const dot = (s: any) => (
    <circle cx={s.cx} cy={s.cy} r={4.6} fill={p.color} fillOpacity={p.opacity}
      stroke={p.color} strokeOpacity={p.opacity} strokeWidth={1} />
  );
  return (
    <div style={{ position: 'absolute', left: p.left, top: p.top - PAD_TOP }}>
      <ComposedChart width={w} height={h} data={rows} margin={{ top: PAD_TOP, right: 0, bottom: 0, left: 0 }}>
        <CartesianGrid horizontalValues={Y_MINOR} verticalValues={X_MINOR} stroke="#d9d9d9" strokeDasharray="1.5 2.5" strokeWidth={1} />
        <CartesianGrid horizontalValues={Y_TICKS} verticalValues={X_TICKS} stroke="#c4c4c4" strokeDasharray="4 2.5" strokeWidth={1} />
        <XAxis type="number" dataKey="x" domain={X_DOMAIN} ticks={X_TICKS} interval={0}
          hide={!p.showX} height={X_AXIS_H} axisLine={false} tickLine={false} tickSize={6} tickMargin={9}
          tick={tickStyle} tickFormatter={(v: number) => v.toFixed(1)} allowDataOverflow />
        <YAxis type="number" dataKey="y" domain={Y_DOMAIN} ticks={Y_TICKS} interval={0}
          hide={!p.showY} width={Y_AXIS_W} axisLine={false} tickLine={false} tickSize={6} tickMargin={7}
          tick={tickStyle} allowDataOverflow />
        <Scatter data={pts} shape={dot} isAnimationActive={false} />
        <Area type="linear" dataKey="band" stroke="none" fill="#999999" fillOpacity={0.4} isAnimationActive={false} />
        <Line type="linear" dataKey="fit" stroke="#3366FF" strokeWidth={3.3} dot={false} activeDot={false} isAnimationActive={false} />
      </ComposedChart>
    </div>
  );
}

function R2Label({ x, y, value }: { x: number; y: number; value: string }) {
  return (
    <text x={x} y={y} fontSize={24} fill="#1a1a1a" fontFamily={FONT}>
      <tspan fontStyle="italic">R</tspan>
      <tspan dx={3} dy={-12} fontSize={17}>2</tspan>
      <tspan dx={2} dy={12}>{' = ' + value}</tspan>
    </text>
  );
}

export default function App() {
  const stripY1 = 111;
  const stripY2 = 669.5;
  const cxL = Y_AXIS_W + PANEL_W / 2;
  const cxR = RIGHT_X + PANEL_W / 2;
  return (
    <div style={{ position: 'absolute', left: 0, top: 0, width: 1600, height: 1280, background: '#ffffff', overflow: 'hidden', fontFamily: FONT }}>
      <Panel left={LEFT_X} top={TOP_Y} showX={false} showY={true} points={bblPoints} color="#5BA3E6" opacity={0.55}
        fitX={bblFitX} fit={bblFit} lo={bblLo} hi={bblHi} />
      <Panel left={RIGHT_X} top={TOP_Y} showX={false} showY={false} points={iplPoints} color="#333333" opacity={0.55}
        fitX={iplFitX} fit={iplFit} lo={iplLo} hi={iplHi} />
      <Panel left={LEFT_X} top={BOTTOM_Y} showX={true} showY={true} points={sslPoints} color="#7CDC6A" opacity={0.55}
        fitX={sslFitX} fit={sslFit} lo={sslLo} hi={sslHi} />
      <Panel left={RIGHT_X} top={BOTTOM_Y} showX={true} showY={false} points={t20Points} color="#F4A460" opacity={0.6}
        fitX={t20FitX} fit={t20Fit} lo={t20Lo} hi={t20Hi} />
      <svg width={1600} height={1280} style={{ position: 'absolute', left: 0, top: 0, pointerEvents: 'none' }}>
        <text x={78.6} y={28} fontSize={31.9} fontWeight="bold" fill="#000" fontFamily={FONT}>{TITLE}</text>
        <text x={78.6} y={62} fontSize={24} fill="#000" fontFamily={FONT}>{SUBTITLE}</text>
        <text x={cxL} y={stripY1} fontSize={26.5} fill="#1a1a1a" textAnchor="middle" fontFamily={FONT}>{LEAGUES[0]}</text>
        <text x={cxR} y={stripY1} fontSize={26.5} fill="#1a1a1a" textAnchor="middle" fontFamily={FONT}>{LEAGUES[1]}</text>
        <text x={cxL} y={stripY2} fontSize={26.5} fill="#1a1a1a" textAnchor="middle" fontFamily={FONT}>{LEAGUES[2]}</text>
        <text x={cxR} y={stripY2} fontSize={26.5} fill="#1a1a1a" textAnchor="middle" fontFamily={FONT}>{LEAGUES[3]}</text>
        <R2Label x={113} y={180} value={R2[0]} />
        <R2Label x={878.5} y={180} value={R2[1]} />
        <R2Label x={113} y={738.6} value={R2[2]} />
        <R2Label x={878.5} y={738.6} value={R2[3]} />
        <text x={836.5} y={1239.5} fontSize={26} fill="#000" textAnchor="middle" fontFamily={FONT}>{X_TITLE}</text>
        <text x={0} y={0} fontSize={26} fill="#000" textAnchor="middle" fontFamily={FONT}
          transform="translate(24 653.7) rotate(-90)">{Y_TITLE}</text>
        <text x={1596} y={1272.5} fontSize={19.5} fill="#000" textAnchor="end" fontFamily={FONT} style={{ whiteSpace: 'pre' }}>{CAPTION}</text>
      </svg>
    </div>
  );
}
